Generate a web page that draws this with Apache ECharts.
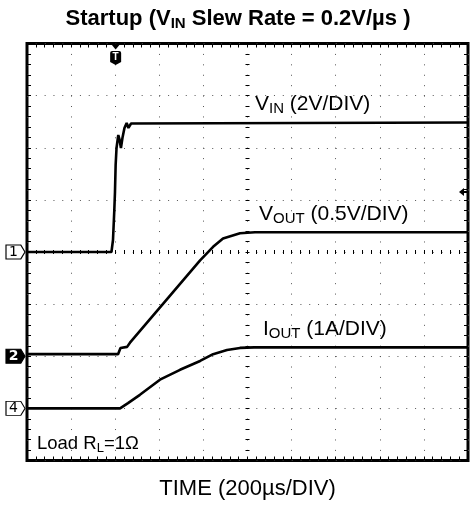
<!DOCTYPE html>
<html><head><meta charset="utf-8">
<script src="https://cdn.jsdelivr.net/npm/echarts@6/dist/echarts.min.js"></script>
<style>html,body{margin:0;padding:0;background:#fff}#c{width:474px;height:507px}</style>
</head><body><div id="c"></div>
<script>
// ---- data ----
// time in microseconds from the left edge of the screen (200 us/div, 10 div)
const vinTime  = [0, 383, 390, 396, 399, 402, 406, 414, 420, 426, 433, 442, 452, 460, 472, 2000];
const vinVolts = [0, 0, 0.46, 1.61, 2.30, 3.34, 3.99, 4.49, 4.30, 3.99, 4.38, 4.76, 4.95, 4.76, 4.93, 4.97];
const voutTime  = [0, 413, 424, 454, 467, 785, 844, 889, 966, 1034, 2000];
const voutVolts = [0.02, 0.02, 0.08, 0.09, 0.13, 0.92, 1.05, 1.13, 1.18, 1.19, 1.19];
const ioutTime = [0, 422, 458, 512, 603, 694, 785, 844, 907, 966, 1030, 2000];
const ioutAmps = [0, 0, 0.10, 0.26, 0.55, 0.74, 0.91, 1.04, 1.12, 1.16, 1.17, 1.17];
const triggerTime = 402;     // us
const triggerLevel = 2.3;    // V on channel 1

const FF = 'Liberation Sans, Arial, Helvetica, sans-serif';
const zip = (a, b) => a.map((t, i) => [t, b[i]]);

function richText(x, y, parts, size, sub, weight, align, drop) {
  let txt = parts.map(p => (p[1] ? '{s|' : '{m|') + p[0] + '}').join('');
  return {
    type: 'text', x: x, y: y, silent: true,
    style: {
      text: txt, align: align || 'left', verticalAlign: 'middle', fill: '#000',
      rich: {
        m: { fontSize: size, fontFamily: FF, fontWeight: weight || 'normal', lineHeight: size, fill: '#000' },
        s: { fontSize: sub, fontFamily: FF, fontWeight: weight || 'normal', lineHeight: sub,
             padding: [drop, 0, 0, 0], fill: '#000' }
      }
    }
  };
}

const tickCommon = {
  axisLine: { show: false, onZero: false },
  axisTick: { show: true, inside: true, length: 4, lineStyle: { color: '#000', width: 1 } },
  minorTick: { show: true, splitNumber: 5, length: 4, lineStyle: { color: '#000', width: 1 } },
  axisLabel: { show: false },
  splitLine: { show: false }
};
const xBase = { type: 'value', min: 0, max: 2000, interval: 200 };
const yDiv = { type: 'value', min: -4, max: 4, interval: 1 };

function chanMarker(label, filled) {
  return {
    coord: [0, 0],
    symbol: 'path://M0,0L14,0L18,7L14,14L0,14Z',
    symbolSize: [19, 14],
    symbolOffset: [-11.5, 0],
    itemStyle: { color: filled ? '#000' : '#fff', borderColor: '#000', borderWidth: 1 },
    label: { show: true, formatter: label, color: filled ? '#fff' : '#000', fontSize: 14,
             fontFamily: 'DejaVu Sans, sans-serif', fontWeight: filled ? 'bold' : 'normal', offset: [-2, 0] }
  };
}

const lineStyle = { color: '#000', width: 2.6 };

const option = {
  animation: false,
  backgroundColor: '#fff',
  grid: { left: 27, right: 6, top: 43.5, bottom: 46.5, show: true, borderColor: '#000', borderWidth: 3 },
  xAxis: [
    Object.assign({}, xBase, tickCommon, { position: 'bottom',
      splitLine: { show: true, lineStyle: { type: [1, 9.42], color: '#555', width: 1 } } }),
    Object.assign({}, xBase, tickCommon, { position: 'top' }),
    Object.assign({}, xBase, tickCommon, { position: 'bottom', offset: -206.5 })
  ],
  yAxis: [
    Object.assign({ type: 'value', min: -8, max: 8, interval: 2 }, tickCommon, { position: 'left',
      splitLine: { show: true, lineStyle: { type: [1, 7.82], color: '#555', width: 1 } } }),
    { type: 'value', min: -1, max: 3, interval: 0.5, show: false },
    { type: 'value', min: -1, max: 7, interval: 1, show: false },
    Object.assign({}, yDiv, tickCommon, { position: 'right' }),
    Object.assign({}, yDiv, tickCommon, { position: 'left', offset: -218.5 })
  ],
  graphic: [
    richText(238, 19, [['Startup (V'], ['IN', 1], [' Slew Rate = 0.2V/µs )']], 22, 15, 'bold', 'center', 9),
    richText(247.5, 489, [['TIME (200µs/DIV)']], 22, 15, 'normal', 'center', 0),
    richText(255, 104, [['V'], ['IN', 1], [' (2V/DIV)']], 21, 15, 'normal', 'left', 10),
    richText(259, 214, [['V'], ['OUT', 1], [' (0.5V/DIV)']], 21, 15, 'normal', 'left', 10),
    richText(263, 329, [['I'], ['OUT', 1], [' (1A/DIV)']], 21, 15, 'normal', 'left', 10),
    richText(37, 444, [['Load R'], ['L', 1], ['=1Ω']], 18.5, 13, 'normal', 'left', 8)
  ],
  series: [
    { name: 'VIN', type: 'line', xAxisIndex: 0, yAxisIndex: 0, data: zip(vinTime, vinVolts),
      showSymbol: false, lineStyle: lineStyle, z: 5,
      markPoint: { silent: true, data: [
        chanMarker('1', false),
        { coord: [triggerTime, 8], symbol: 'triangle', symbolRotate: 180, symbolSize: [10, 6], symbolOffset: [0, 3],
          itemStyle: { color: '#000' }, label: { show: false } },
        { coord: [triggerTime, 8], symbol: 'path://M2,0L9,0Q11,0 11,2L11,11L5.5,14L0,11L0,2Q0,0 2,0Z',
          symbolSize: [11, 14], symbolOffset: [0, 14.5], itemStyle: { color: '#000' },
          label: { show: true, formatter: 'T', color: '#fff', fontSize: 10, fontWeight: 'bold', fontFamily: FF, offset: [0, -1] } },
        { coord: [2000, triggerLevel], symbol: 'path://M0,4L5,0L5,3L9,3L9,5L5,5L5,8Z',
          symbolSize: [9, 8], symbolOffset: [-4.5, 0], itemStyle: { color: '#000' }, label: { show: false } }
      ] } },
    { name: 'VOUT', type: 'line', xAxisIndex: 0, yAxisIndex: 1, data: zip(voutTime, voutVolts),
      showSymbol: false, lineStyle: lineStyle, z: 5,
      markPoint: { silent: true, data: [chanMarker('2', true)] } },
    { name: 'IOUT', type: 'line', xAxisIndex: 0, yAxisIndex: 2, data: zip(ioutTime, ioutAmps),
      showSymbol: false, lineStyle: lineStyle, z: 5,
      markPoint: { silent: true, data: [chanMarker('4', false)] } }
  ]
};
const chart = echarts.init(document.getElementById('c'), null, { renderer: 'canvas' });
chart.setOption(option);
</script>
</body></html>
